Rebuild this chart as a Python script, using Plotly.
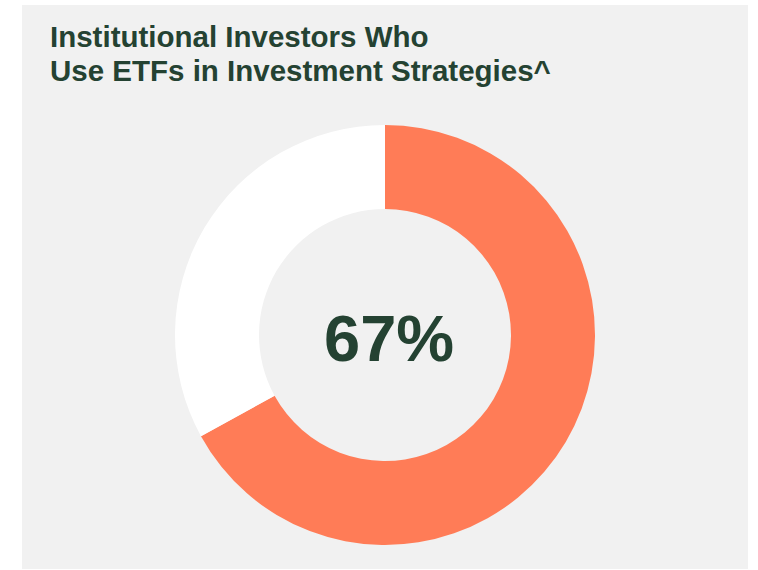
import plotly.graph_objects as go

# Share of institutional investors using ETFs
labels = ["Use ETFs", "Do not use ETFs"]
values = [67, 33]
colors = ["#FF7C57", "#FFFFFF"]

title_lines = ["Institutional Investors Who", "Use ETFs in Investment Strategies^"]
center_label = f"{values[0]}%"

W, H = 758, 570
cx, cy, r = 385, 335, 210
text_color = "#244232"

fig = go.Figure(
    go.Pie(
        labels=labels,
        values=values,
        hole=0.6,
        sort=False,
        direction="clockwise",
        rotation=0,
        marker=dict(colors=colors, line=dict(width=0)),
        textinfo="none",
        hoverinfo="label+percent",
        showlegend=False,
        domain=dict(
            x=[(cx - r) / W, (cx + r) / W],
            y=[(H - cy - r) / H, (H - cy + r) / H],
        ),
    )
)

# Title drawn one line per annotation for tighter line spacing
title_annotations = [
    dict(
        text=f"<b>{line}</b>",
        xref="paper", yref="paper",
        x=48 / W, y=1 - top / H,
        xanchor="left", yanchor="top", align="left",
        showarrow=False,
        font=dict(size=29.5, color=text_color),
    )
    for line, top in zip(title_lines, [18, 52])
]

fig.update_layout(
    width=W,
    height=H,
    margin=dict(l=0, r=0, t=0, b=0),
    paper_bgcolor="#FFFFFF",
    plot_bgcolor="#FFFFFF",
    font=dict(family="Liberation Sans, Arial, sans-serif", color=text_color),
    shapes=[
        dict(
            type="rect", xref="paper", yref="paper",
            x0=22 / W, x1=748 / W, y0=1 - 569 / H, y1=1 - 5 / H,
            fillcolor="#F1F1F1", line=dict(width=0), layer="below",
        )
    ],
    annotations=title_annotations + [
        dict(
            text=f"<b>{center_label}</b>",
            xref="paper", yref="paper",
            x=389 / W, y=1 - 338 / H,
            xanchor="center", yanchor="middle",
            showarrow=False,
            font=dict(size=65, color=text_color),
        ),
    ],
)

fig.write_html("out.html")
